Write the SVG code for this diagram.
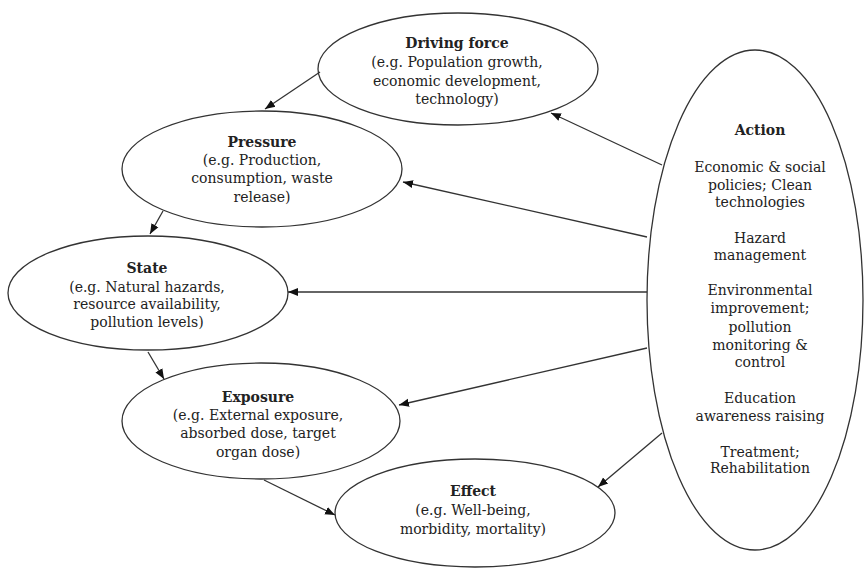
<svg xmlns="http://www.w3.org/2000/svg" width="866" height="568" viewBox="0 0 866 568">
<style>
.n{fill:#fff;stroke:#333;stroke-width:1.3}
.c{stroke:#333;stroke-width:1.3;fill:none;marker-end:url(#ah)}
text{font-family:"DejaVu Serif","Liberation Serif",serif;font-size:14px;fill:#222;text-anchor:middle}
.t{font-weight:bold}
</style>
<defs>
<marker id="ah" viewBox="0 0 10 10" refX="10" refY="5" markerWidth="10" markerHeight="10" markerUnits="userSpaceOnUse" orient="auto">
<path d="M0,1 L10,5 L0,9 z" fill="#111"/>
</marker>
</defs>
<rect width="866" height="568" fill="#fff"/>
<g id="driving-force">
<ellipse class="n" cx="458" cy="69" rx="140" ry="56"/>
<text class="t" x="457" y="48">Driving force</text>
<text x="457" y="67">(e.g. Population growth,</text>
<text x="457" y="86">economic development,</text>
<text x="457" y="104">technology)</text>
</g>
<g id="pressure">
<ellipse class="n" cx="262" cy="169" rx="140" ry="58"/>
<text class="t" x="262" y="147">Pressure</text>
<text x="262" y="165">(e.g. Production,</text>
<text x="262" y="183">consumption, waste</text>
<text x="262" y="202">release)</text>
</g>
<g id="state">
<ellipse class="n" cx="148" cy="293" rx="140" ry="57"/>
<text class="t" x="147" y="273">State</text>
<text x="147" y="292">(e.g. Natural hazards,</text>
<text x="147" y="309">resource availability,</text>
<text x="147" y="327">pollution levels)</text>
</g>
<g id="exposure">
<ellipse class="n" cx="261" cy="421" rx="139" ry="58"/>
<text class="t" x="258" y="402">Exposure</text>
<text x="258" y="420">(e.g. External exposure,</text>
<text x="258" y="438">absorbed dose, target</text>
<text x="258" y="457">organ dose)</text>
</g>
<g id="effect">
<ellipse class="n" cx="475" cy="513" rx="140" ry="54"/>
<text class="t" x="473" y="496">Effect</text>
<text x="473" y="515">(e.g. Well-being,</text>
<text x="473" y="534">morbidity, mortality)</text>
</g>
<g id="action">
<ellipse class="n" cx="755" cy="300" rx="108" ry="250"/>
<text class="t" x="760" y="135">Action</text>
<text x="760" y="172">Economic &amp; social</text>
<text x="760" y="190">policies; Clean</text>
<text x="760" y="207">technologies</text>
<text x="760" y="243">Hazard</text>
<text x="760" y="260">management</text>
<text x="760" y="295">Environmental</text>
<text x="760" y="313">improvement;</text>
<text x="760" y="332">pollution</text>
<text x="760" y="350">monitoring &amp;</text>
<text x="760" y="367">control</text>
<text x="760" y="403">Education</text>
<text x="760" y="421">awareness raising</text>
<text x="760" y="457">Treatment;</text>
<text x="760" y="473">Rehabilitation</text>
</g>
<g id="connectors">
<line class="c" x1="320" y1="72" x2="265" y2="109"/>
<line class="c" x1="163" y1="211" x2="150" y2="234"/>
<line class="c" x1="148" y1="352" x2="164" y2="379"/>
<line class="c" x1="264" y1="480" x2="335" y2="515"/>
<line class="c" x1="662" y1="165" x2="551" y2="113"/>
<line class="c" x1="647" y1="237" x2="403" y2="182"/>
<line class="c" x1="647" y1="292" x2="288" y2="292"/>
<line class="c" x1="647" y1="348" x2="399" y2="405"/>
<line class="c" x1="662" y1="433" x2="598" y2="487"/>
</g>
</svg>
